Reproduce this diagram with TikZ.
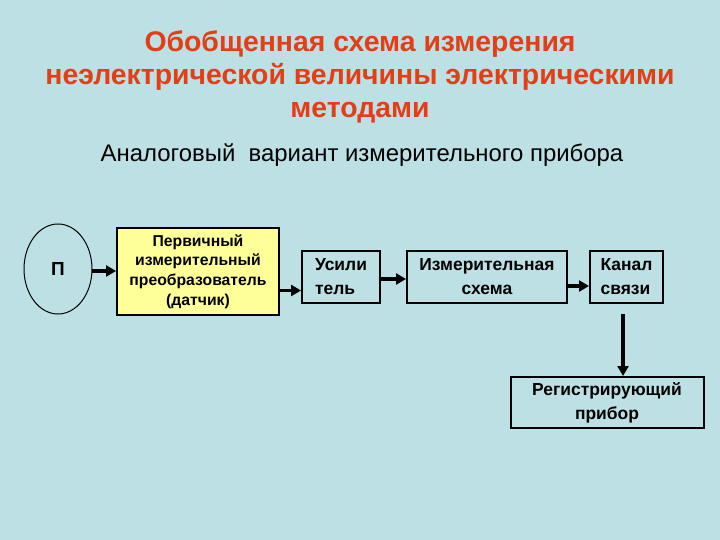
\documentclass[tikz,border=0pt]{standalone}
\usepackage{fontspec}
\setmainfont{Liberation Sans}
\definecolor{SlideBlue}{RGB}{188,224,228}
\definecolor{TitleRed}{RGB}{228,62,22}
\definecolor{SensorYellow}{RGB}{255,255,153}
\usetikzlibrary{arrows.meta, shapes.geometric, positioning, calc}
\tikzset{
  blockbox/.style={draw=black, line width=2pt, font=\bfseries\fontsize{17.5}{24}\selectfont, inner sep=3pt},
  flowarrow/.style={line width=4pt, -{Triangle[length=10pt, width=11pt]}}
}
\begin{document}
\begin{tikzpicture}[x=1bp, y=-1bp]
  % background
  \fill[SlideBlue] (0,0) rectangle (720,540);
  \useasboundingbox (0,0) rectangle (720,540);

  % title
  \node[text=TitleRed, font=\bfseries\fontsize{28.5}{33.5}\selectfont, align=center] (title) at (360,77) {%
    Обобщенная схема измерения\\
    неэлектрической величины электрическими\\
    методами};
  \node[font=\fontsize{24}{28}\selectfont] (subtitle) at (362,155) {Аналоговый\ \ вариант измерительного прибора};

  % blocks
  \node[draw=black, line width=1pt, ellipse, minimum width=68bp, minimum height=90bp, font=\bfseries\fontsize{19}{20}\selectfont] (obj) at (58,269) {П};
  \node[blockbox, fill=SensorYellow, minimum width=162bp, minimum height=87bp, align=center, font=\bfseries\fontsize{15.8}{19.8}\selectfont] (sensor) at (198,271.5) {%
    Первичный\\измерительный\\преобразователь\\(датчик)};
  \node[blockbox, minimum width=78bp, minimum height=52bp, align=left] (amp) at (341,277) {Усили\\тель};
  \node[blockbox, minimum width=160bp, minimum height=52bp, align=center] (circuit) at (487,277) {Измерительная\\схема};
  \node[blockbox, minimum width=73bp, minimum height=52bp, align=left] (channel) at (626.5,277) {Канал\\связи};
  \node[blockbox, minimum width=193bp, minimum height=51bp, align=center] (recorder) at (607,402.5) {Регистрирующий\\прибор};
  \coordinate (drop) at (623,0);

  % connectors
  \draw[flowarrow] ([yshift=-2bp]obj.east) -- ([yshift=-2bp]obj.east -| sensor.west);
  \draw[flowarrow] ([yshift=-19bp]sensor.east) -- ([yshift=-19bp]sensor.east -| amp.west);
  \draw[flowarrow] ([yshift=-2bp]amp.east) -- ([yshift=-2bp]amp.east -| circuit.west);
  \draw[flowarrow] ([yshift=-9bp]circuit.east) -- ([yshift=-9bp]circuit.east -| channel.west);
  \draw[flowarrow] ([yshift=-10bp]channel.south -| drop) -- (recorder.north -| drop);
\end{tikzpicture}
\end{document}
